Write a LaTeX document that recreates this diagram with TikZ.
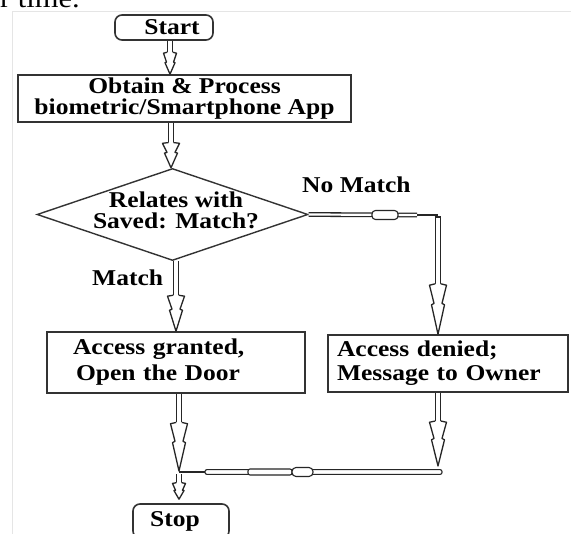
\documentclass[tikz,border=0pt]{standalone}
\usepackage{fontspec}
\setmainfont{Liberation Serif}[FakeStretch=1.13]
\usetikzlibrary{shapes.geometric,calc}
\begin{document}
\begin{tikzpicture}[x=1bp,y=-1bp,
  every node/.style={inner sep=0pt},
  txtA/.style={font=\fontsize{22.6bp}{20.4bp}\selectfont\bfseries},
  txtB/.style={font=\fontsize{22.6bp}{21bp}\selectfont\bfseries},
  txtC/.style={font=\fontsize{22.6bp}{26bp}\selectfont\bfseries},
  txtD/.style={font=\fontsize{22.6bp}{24bp}\selectfont\bfseries},
  box/.style={draw=black!80, line width=1.6bp, rectangle, text=black},
  term/.style={box, rounded corners=7bp},
  shaft/.style={draw=black!85, line width=1.3bp, double=white, double distance=4.2bp},
  hshaft/.style={draw=black!85, line width=1.3bp, double=white, double distance=2.2bp},
  conn/.style={draw=black!85, line width=1.1bp},
  bulge/.style={draw=black!85, line width=1.1bp, fill=white},
  lbl/.style={txtA, anchor=base west, text=black},
  bighead/.pic={\draw[draw=black!85, line width=1.3bp, fill=white, line join=round]
     (-2.75,-36) -- (-8.5,-35) -- (-4,-22) -- (-6.5,-21) -- (0,0) -- (6.5,-21) -- (4,-22) -- (8.5,-35) -- (2.75,-36);},
  smallhead/.pic={\draw[draw=black!85, line width=1.3bp, fill=white, line join=round]
     (-2.75,-22) -- (-6.5,-21) -- (-3.5,-12) -- (-5,-11.5) -- (0,0) -- (5,-11.5) -- (3.5,-12) -- (6.5,-21) -- (2.75,-22);}
]
\useasboundingbox (0,0) rectangle (571,534);
\clip (0,0) rectangle (571,534);
\fill[white] (0,0) rectangle (571,534);
\draw[black!10, line width=1bp] (12,534) -- (12,12) -- (571,12);
\node[anchor=base west, font=\fontsize{27bp}{30bp}\selectfont] (hdr) at (0,8) {r time.};

% nodes
\node[term, txtA, minimum width=98bp, minimum height=25bp] (start) at (164,27.5) {\hspace*{16bp}Start};
\node[box, txtA, align=center, minimum width=333bp, minimum height=47bp] (obtain) at (184.5,98.5) {Obtain \& Process\\biometric/Smartphone App};
\node[diamond, draw=black!80, line width=1.4bp, minimum width=271bp, minimum height=92bp] (dia) at (172.5,214.5) {};
\node[txtB, align=center] (diatext) at (176,210) {Relates with\\Saved: Match?};
\node[lbl] (nomatch) at (302,193) {No Match};
\node[lbl] (match) at (92,285) {Match};
\node[box, txtC, align=left, text width=206bp, inner xsep=26bp, minimum height=61bp] (grant) at (176,362.5) {Access granted,\\\hspace*{3bp}Open the Door};
\node[box, txtD, align=left, text width=222bp, inner xsep=9bp, minimum height=57bp] (deny) at (448,363.5) {Access denied;\\Message to Owner};
\node[term, txtA, minimum width=96bp, minimum height=34bp] (stop) at (181,521) {Stop\hspace*{12bp}};

% helper coordinates
\coordinate (xa) at (170,0);
\coordinate (xb) at (171,0);
\coordinate (xc) at (176,0);
\coordinate (xl) at (179,0);
\coordinate (xr) at (438,0);
\coordinate (nmA) at (417,215);
\coordinate (vtop) at (438,217);
\coordinate (mj) at (179,471);
\coordinate (mL) at (179,472);
\coordinate (mS) at (205,472);
\coordinate (tipR) at (438,466);
\coordinate (sTop) at (179,474);
\coordinate (tipS) at ($(stop.north -| xl)+(0,-4)$);

% start -> obtain
\draw[shaft] (start.south -| xa) -- ($(obtain.north -| xa)+(0,-22)$);
\path (obtain.north -| xa) pic {smallhead};

% obtain -> decision
\draw[shaft] (obtain.south -| xb) -- ($(dia.north -| xb)+(0,-25.2)$);
\path (dia.north -| xb) pic[yscale=0.7] {bighead};

% decision -> granted
\draw[shaft] (dia.south -| xc) -- ($(grant.north -| xc)+(0,-36)$);
\path (grant.north -| xc) pic {bighead};

% decision -> denied (No Match)
\draw[hshaft] (dia.east) -- (nmA);
\draw[draw=black!85, line width=1.8bp] (nmA) -- (vtop |- nmA);
\draw[bulge, rounded corners=3.5bp] (372,210.5) rectangle (398,219.5);
\draw[shaft] (vtop) -- ($(deny.north -| xr)+(0,-50.4)$);
\draw[draw=black!85, line width=1.3bp] ($(vtop)+(-3.4,0)$) -- ($(vtop)+(3.4,0)$);
\path (deny.north -| xr) pic[yscale=1.4] {bighead};

% granted -> merge
\draw[shaft] (grant.south -| xl) -- ($(mj)+(0,-48.6)$);
\path (mj) pic[yscale=1.35] {bighead};

% denied -> merge
\draw[shaft] (deny.south -| xr) -- ($(tipR)+(0,-45)$);
\path (tipR) pic[yscale=1.25] {bighead};

% merge line
\draw[conn] (mL) -- (mS);
\draw[bulge, rounded corners=2bp] (205,469.6) rectangle (442,474.4);
\draw[bulge, rounded corners=2bp] (248,469) rectangle (292,475);
\draw[bulge, rounded corners=4bp] (292,467.5) rectangle (313,476.5);

% merge -> stop
\draw[shaft] (sTop) -- ($(tipS)+(0,-16.5)$);
\path (tipS) pic[yscale=0.75] {smallhead};
\end{tikzpicture}
\end{document}
